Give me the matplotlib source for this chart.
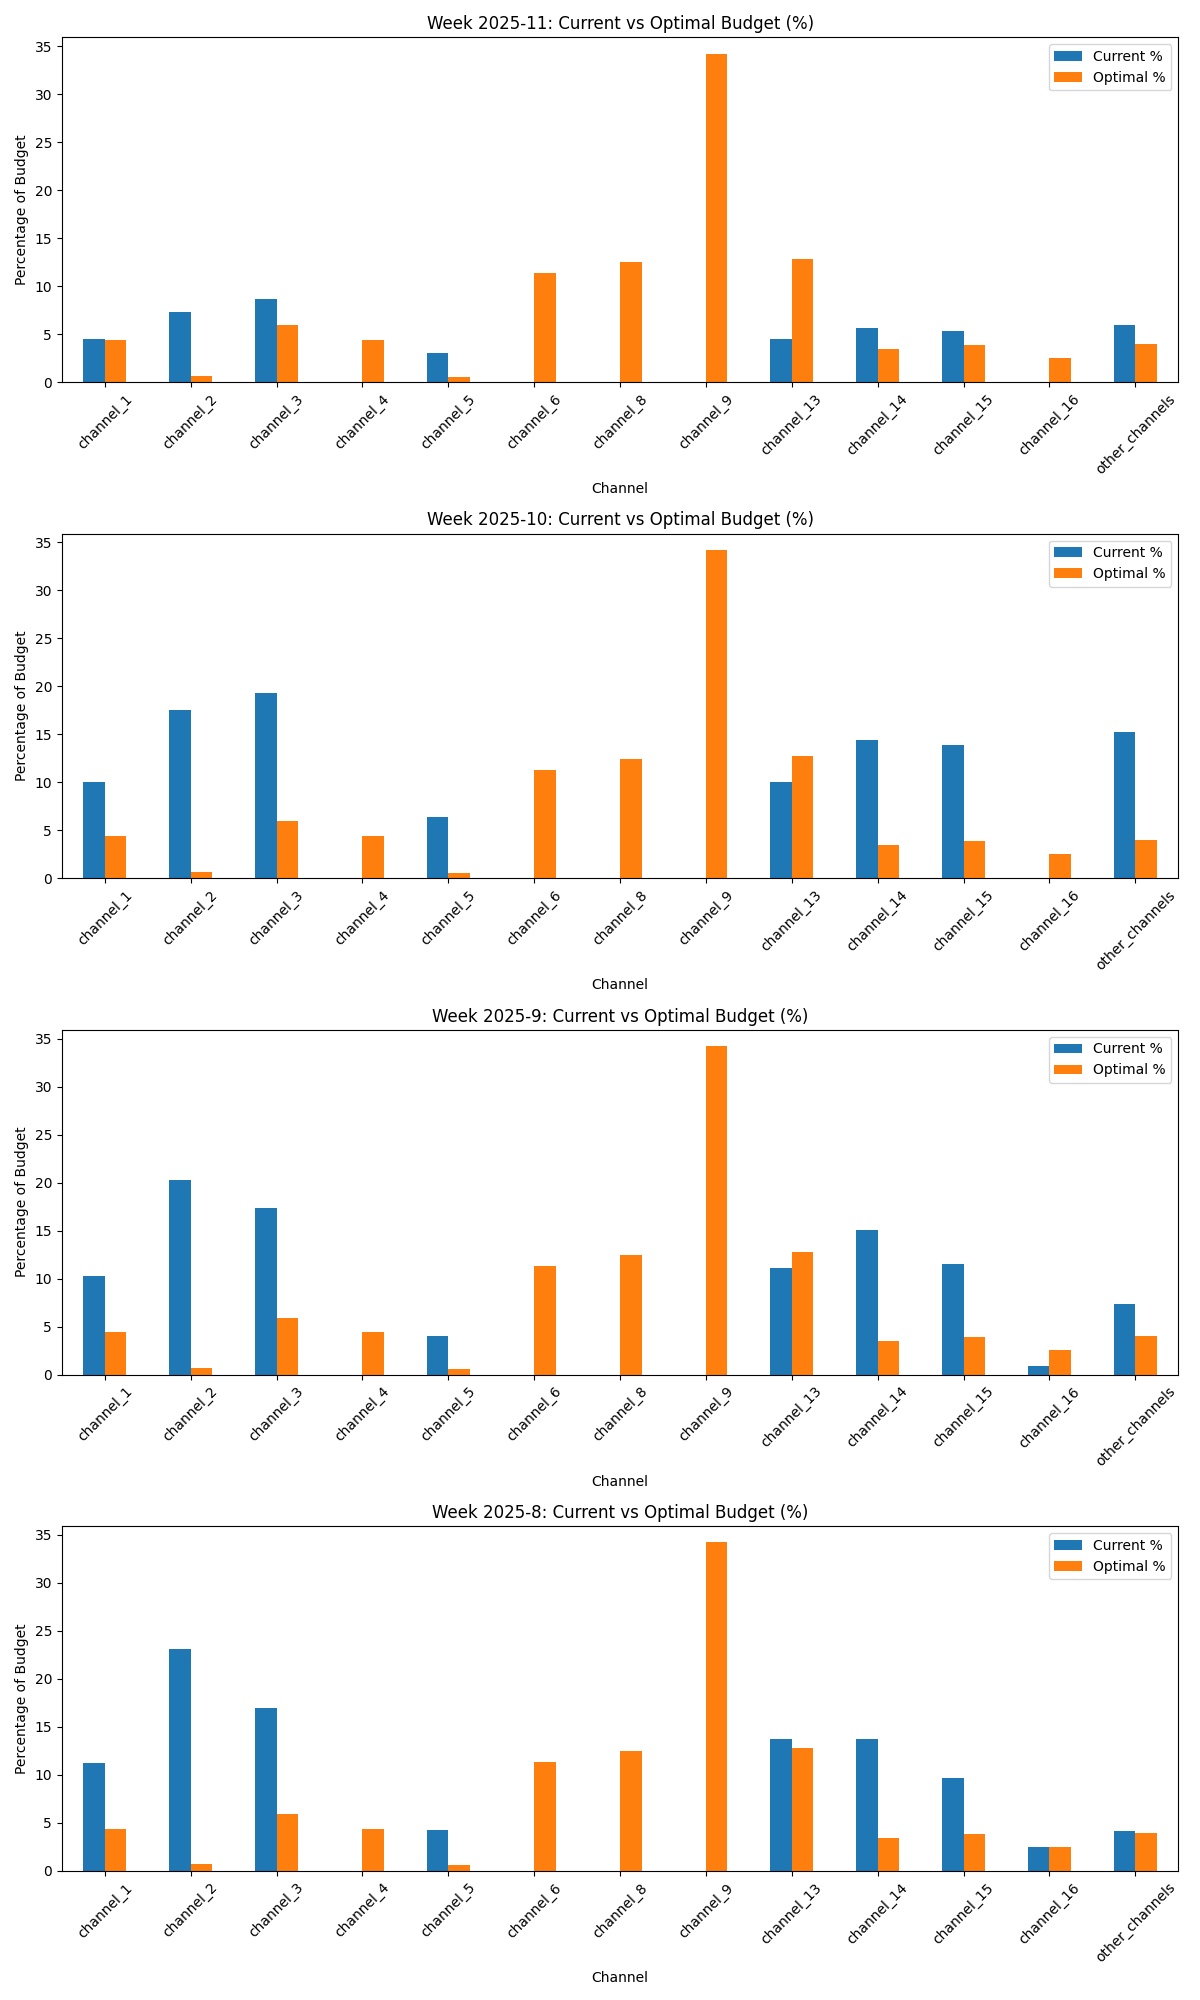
import numpy as np
import matplotlib
matplotlib.use('Agg')
import matplotlib.pyplot as plt

channels = ['channel_1', 'channel_2', 'channel_3', 'channel_4', 'channel_5',
            'channel_6', 'channel_8', 'channel_9', 'channel_13', 'channel_14',
            'channel_15', 'channel_16', 'other_channels']

weeks = ['2025-11', '2025-10', '2025-9', '2025-8']

# optimal split is the same every week
optimal = [4.38, 0.66, 5.94, 4.38, 0.55, 11.32, 12.46, 34.21, 12.77, 3.45, 3.87, 2.52, 3.97]

current_w11 = [4.49, 7.28, 8.63, 0, 3.04, 0, 0, 0, 4.49, 5.63, 5.32, 0, 5.94]
current_w10 = [10.08, 17.54, 19.30, 0, 6.35, 0, 0, 0, 10.08, 14.43, 13.91, 0, 15.26]
current_w9 = [10.25, 20.27, 17.38, 0, 4.06, 0, 0, 0, 11.08, 15.11, 11.49, 0.86, 7.36]
current_w8 = [11.18, 23.06, 16.96, 0, 4.27, 0, 0, 0, 13.76, 13.76, 9.64, 2.51, 4.16]

current = [current_w11, current_w10, current_w9, current_w8]

fig, axes = plt.subplots(4, 1, figsize=(12, 20), dpi=100)
x = np.arange(len(channels))
w = 0.25

for ax, week, cur in zip(axes, weeks, current):
    ax.bar(x - w / 2, cur, w, color='#1f77b4', label='Current %')
    ax.bar(x + w / 2, optimal, w, color='#ff7f0e', label='Optimal %')
    ax.set_xticks(x)
    ax.set_xticklabels(channels, rotation=45)
    ax.set_xlim(-0.5, len(channels) - 0.5)
    ax.set_title('Week ' + week + ': Current vs Optimal Budget (%)')
    ax.set_xlabel('Channel')
    ax.set_ylabel('Percentage of Budget')
    ax.legend(loc='upper right')

plt.tight_layout()
plt.savefig('out.png')
